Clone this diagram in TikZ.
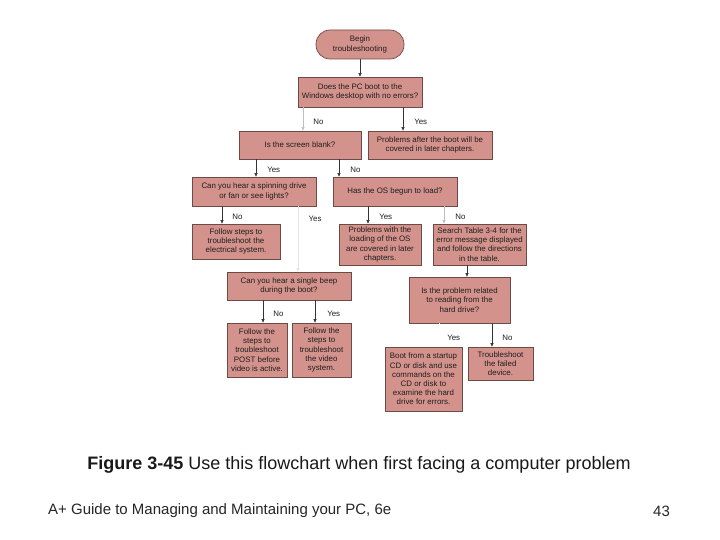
\documentclass[tikz,border=0pt]{standalone}
\usepackage{fontspec}
\setmainfont{Liberation Sans}
\usetikzlibrary{arrows.meta}
\definecolor{boxfill}{RGB}{212,146,140}
\definecolor{boxline}{RGB}{110,74,71}
\definecolor{txt}{RGB}{30,30,30}
\tikzset{
  box/.style={draw=boxline, fill=boxfill, line width=0.7pt, inner sep=1pt, align=center,
    text=txt, font=\fontsize{7.9}{9.2}\selectfont},
  term/.style={box, rounded corners=14pt},
  arr/.style={draw=black!80, line width=0.6pt, -{Triangle[length=3.5pt,width=3pt]}},
  faint/.style={draw=black!25},
  vfaint/.style={draw=black!10},
  lbl/.style={text=txt, font=\fontsize{7.9}{9.2}\selectfont, inner sep=0pt},
  plbl/.style={lbl, pos=0.62},
}
\begin{document}
\begin{tikzpicture}[x=1pt,y=-1pt]
\useasboundingbox (0,0) rectangle (720,540);
\fill[white] (0,0) rectangle (720,540);
% nodes
\node[term, minimum width=88pt, minimum height=29pt] (b1) at (360,44.5) {Begin\\troubleshooting};
\node[box, minimum width=124pt, minimum height=30pt] (b2) at (360,92) {Does the PC boot to the\\Windows desktop with no errors?};
\node[box, minimum width=122pt, minimum height=28pt] (b3) at (300,145) {Is the screen blank?};
\node[box, minimum width=124pt, minimum height=28pt] (b4) at (430,145) {Problems after the boot will be\\covered in later chapters.};
\node[box, minimum width=124pt, minimum height=29pt] (b5) at (254,191.5) {Can you hear a spinning drive\\or fan or see lights?};
\node[box, minimum width=124pt, minimum height=29pt] (b6) at (395,191.5) {Has the OS begun to load?};
\node[box, minimum width=88pt, minimum height=35pt] (b7) at (236,241.5) {Follow steps to\\troubleshoot the\\electrical system.};
\node[box, minimum width=82pt, minimum height=41pt] (b8) at (380,244.5) {Problems with the\\loading of the OS\\are covered in later\\chapters.};
\node[box, minimum width=93pt, minimum height=41pt] (b9) at (479.5,244.5) {Search Table 3-4 for the\\error message displayed\\and follow the directions\\in the table.};
\node[box, minimum width=124pt, minimum height=28pt] (b10) at (289,286) {Can you hear a single beep\\during the boot?};
\node[box, minimum width=101pt, minimum height=46pt] (b11) at (459.5,300) {Is the problem related\\to reading from the\\hard drive?};
\node[box, minimum width=60pt, minimum height=54pt] (b12) at (257,350) {Follow the\\steps to\\troubleshoot\\POST before\\video is active.};
\node[box, minimum width=59pt, minimum height=54pt] (b13) at (321.5,350) {Follow the\\steps to\\troubleshoot\\the video\\system.};
\node[box, minimum width=77pt, minimum height=64pt] (b14) at (423.5,379) {Boot from a startup\\CD or disk and use\\commands on the\\CD or disk to\\examine the hard\\drive for errors.};
\node[box, minimum width=65pt, minimum height=33pt] (b15) at (500.5,363.5) {Troubleshoot\\the failed\\device.};
% connectors
\draw[arr] (b1) -- (b2);
\draw[arr, faint] ([xshift=-57pt]b2.south) -- node[plbl, right=10pt, text=txt] (l1) {No} ([xshift=3pt]b3.north);
\draw[arr] ([xshift=43pt]b2.south) -- node[plbl, right=11pt] (l2) {Yes} ([xshift=-27pt]b4.north);
\draw[arr] ([xshift=-44pt]b3.south) -- node[plbl, right=11pt] (l3) {Yes} ([xshift=2pt]b5.north);
\draw[arr] ([xshift=39pt]b3.south) -- node[plbl, right=11pt] (l4) {No} ([xshift=-56pt]b6.north);
\draw[arr] ([xshift=-32pt]b5.south) -- node[plbl, right=10pt] (l5) {No} ([xshift=-14pt]b7.north);
\draw[arr, vfaint] ([xshift=44pt]b5.south) -- ([xshift=9pt]b10.north);
\node[lbl] (l6) at (315,218.5) {Yes};
\draw[arr] ([xshift=-27pt]b6.south) -- node[plbl, right=11pt] (l7) {Yes} ([xshift=-12pt]b8.north);
\draw[arr, faint] ([xshift=49pt]b6.south) -- node[plbl, right=11pt, text=txt] (l8) {No} ([xshift=-35.5pt]b9.north);
\draw[arr] ([xshift=-12.5pt]b9.south) -- ([xshift=7.5pt]b11.north);
\draw[arr] ([xshift=-26pt]b10.south) -- node[plbl, right=10pt] (l9) {No} ([xshift=6pt]b12.north);
\draw[arr] ([xshift=26pt]b10.south) -- node[plbl, right=12pt] (l10) {Yes} ([xshift=-6.5pt]b13.north);
\draw[arr, draw=white] ([xshift=-20.5pt]b11.south) -- node[plbl, right=8pt] (l11) {Yes} ([xshift=15.5pt]b14.north);
\draw[arr] ([xshift=32.5pt]b11.south) -- node[plbl, right=10pt] (l12) {No} ([xshift=-8.5pt]b15.north);
% caption and footer
\node[inner sep=0pt, font=\fontsize{18}{21}\selectfont, text=black!90] (cap) at (359,465)
  {\textbf{Figure 3-45} Use this flowchart when first facing a computer problem};
\node[inner sep=0pt, anchor=west, font=\fontsize{15}{18}\selectfont, text=black!85] (foot) at (48,511)
  {A+ Guide to Managing and Maintaining your PC, 6e};
\node[inner sep=0pt, font=\fontsize{15}{18}\selectfont, text=black!85] (page) at (661.5,511) {43};
\end{tikzpicture}
\end{document}
